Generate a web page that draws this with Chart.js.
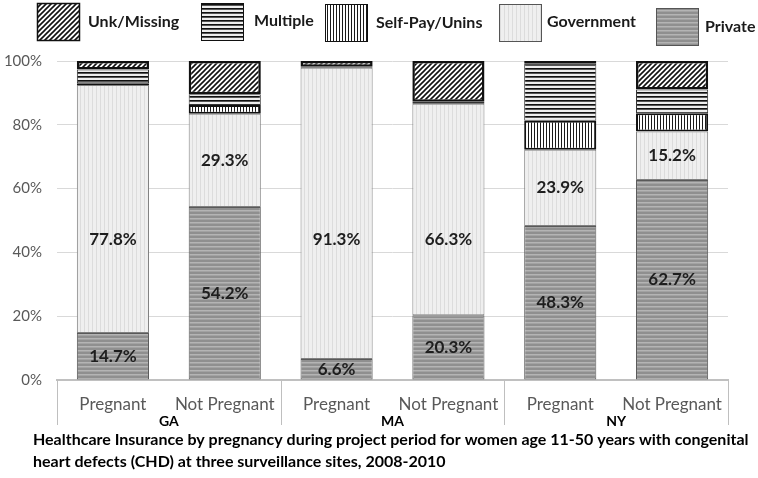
<!DOCTYPE html>
<html>
<head>
<meta charset="utf-8">
<script src="https://cdn.jsdelivr.net/npm/chart.js@4.4.1/dist/chart.umd.min.js"></script>
<style>
  html, body { margin: 0; padding: 0; background: #ffffff; }
  #wrap { width: 758px; height: 478px; }
</style>
</head>
<body>
<div id="wrap"><canvas id="c" width="758" height="478"></canvas></div>
<script>
// ---- data ----
const categories = ['Pregnant', 'Not Pregnant', 'Pregnant', 'Not Pregnant', 'Pregnant', 'Not Pregnant'];
const sites = ['GA', 'MA', 'NY'];
const privateVals = [14.7, 54.2, 6.6, 20.3, 48.3, 62.7];
const governmentVals = [77.8, 29.3, 91.3, 66.3, 23.9, 15.2];
const selfPayVals = [0.5, 2.7, 0.0, 0.2, 9.1, 5.7];
const multipleVals = [4.3, 3.4, 0.3, 0.4, 17.8, 7.5];
const unkVals = [2.7, 10.4, 1.8, 12.8, 0.9, 8.9];
const yTicks = [0, 20, 40, 60, 80, 100];
const seriesNames = ['Private', 'Government', 'Self-Pay/Unins', 'Multiple', 'Unk/Missing'];
const captionLines = [
  'Healthcare Insurance by pregnancy during project period for women age 11-50 years with congenital',
  'heart defects (CHD) at three surveillance sites, 2008-2010'
];

// ---- patterns ----
function makePattern(w, h, draw) {
  const c = document.createElement('canvas');
  c.width = w; c.height = h;
  const g = c.getContext('2d');
  draw(g, w, h);
  return g.createPattern(c, 'repeat');
}
const pPrivate = makePattern(1, 4, (g) => {
  g.fillStyle = '#a2a2a2'; g.fillRect(0, 0, 1, 4);
  g.fillStyle = '#8f8f8f'; g.fillRect(0, 0, 1, 2);
  g.fillStyle = '#b4b4b4'; g.fillRect(0, 2, 1, 1);
});
const pGov = makePattern(4, 1, (g) => {
  g.fillStyle = '#efefef'; g.fillRect(0, 0, 4, 1);
  g.fillStyle = '#dcdcdc'; g.fillRect(0, 0, 1, 1);
});
const pSelf = makePattern(3, 1, (g) => {
  g.fillStyle = '#ffffff'; g.fillRect(0, 0, 3, 1);
  g.fillStyle = '#1a1a1a'; g.fillRect(0, 0, 1, 1);
});
const pMulti = makePattern(1, 4, (g) => {
  g.fillStyle = '#eeeeee'; g.fillRect(0, 0, 1, 4);
  g.fillStyle = '#111111'; g.fillRect(0, 0, 1, 1);
  g.fillStyle = '#555555'; g.fillRect(0, 1, 1, 1);
});
const pUnk = makePattern(5, 5, (g) => {
  g.fillStyle = '#ffffff'; g.fillRect(0, 0, 5, 5);
  g.strokeStyle = '#111111'; g.lineWidth = 1.6;
  g.beginPath();
  g.moveTo(-1, 6); g.lineTo(6, -1);
  g.moveTo(-1, 1); g.lineTo(1, -1);
  g.moveTo(4, 6); g.lineTo(6, 4);
  g.stroke();
});

const fills = [pPrivate, pGov, pSelf, pMulti, pUnk];
const borders = ['#595959', '#808080', '#111111', '#333333', '#111111'];
const borderWidths = [1, 1, 2, 1, 2.5];
const seriesData = [privateVals, governmentVals, selfPayVals, multipleVals, unkVals];

const datasets = seriesNames.map((name, i) => ({
  label: name,
  data: seriesData[i],
  backgroundColor: fills[i],
  borderColor: borders[i],
  borderWidth: borderWidths[i],
  borderSkipped: false,
  barPercentage: 0.645,
  categoryPercentage: 1.0
}));

// ---- plugins ----
const labelPlugin = {
  id: 'valueLabels',
  afterDatasetsDraw(chart) {
    const ctx = chart.ctx;
    const ys = chart.scales.y;
    ctx.save();
    ctx.font = 'bold 17px Lato';
    ctx.fillStyle = '#1e1e1e';
    ctx.textAlign = 'center';
    ctx.textBaseline = 'middle';
    [0, 1].forEach((di) => {
      const meta = chart.getDatasetMeta(di);
      const vals = chart.data.datasets[di].data;
      meta.data.forEach((bar, j) => {
        const v = vals[j];
        let y = (bar.y + bar.base) / 2;
        if (di === 1 && v > 50) y = ys.getPixelForValue(44);
        ctx.fillText(v.toFixed(1) + '%', bar.x, y);
      });
    });
    ctx.restore();
  }
};

const groupPlugin = {
  id: 'groups',
  afterDraw(chart) {
    const ctx = chart.ctx;
    const xs = chart.scales.x;
    const bottom = chart.chartArea.bottom;
    const catW = xs.getPixelForValue(1) - xs.getPixelForValue(0);
    ctx.save();
    ctx.strokeStyle = '#bfbfbf';
    ctx.lineWidth = 1;
    sites.forEach((s, g) => {
      const left = xs.getPixelForValue(2 * g) - catW / 2;
      const right = xs.getPixelForValue(2 * g + 1) + catW / 2;
      ctx.beginPath();
      ctx.moveTo(Math.round(left) + 0.5, bottom);
      ctx.lineTo(Math.round(left) + 0.5, bottom + 45);
      if (g === sites.length - 1) {
        ctx.moveTo(Math.round(right) + 0.5, bottom);
        ctx.lineTo(Math.round(right) + 0.5, bottom + 45);
      }
      ctx.stroke();
      ctx.font = 'bold 14px Lato';
      ctx.fillStyle = '#000000';
      ctx.textAlign = 'center';
      ctx.textBaseline = 'middle';
      ctx.fillText(s, (left + right) / 2, bottom + 41);
    });
    // caption
    ctx.font = 'bold 16px Lato';
    ctx.fillStyle = '#000000';
    ctx.textAlign = 'left';
    ctx.textBaseline = 'middle';
    captionLines.forEach((line, i) => ctx.fillText(line, 33, 440 + i * 22));

    // legend
    const legendItems = [
      { si: 4, bx: 37, by: 3, tx: 88, ty: 22 },
      { si: 3, bx: 201, by: 3, tx: 254, ty: 21 },
      { si: 2, bx: 325, by: 4, tx: 376, ty: 23 },
      { si: 1, bx: 499, by: 4, tx: 547, ty: 22 },
      { si: 0, bx: 656, by: 8, tx: 705, ty: 27 }
    ];
    legendItems.forEach((it) => {
      ctx.fillStyle = fills[it.si];
      ctx.fillRect(it.bx, it.by, 43, 38);
      ctx.strokeStyle = it.si >= 2 ? '#111111' : '#555555';
      ctx.lineWidth = it.si === 4 ? 1.5 : 1;
      ctx.strokeRect(it.bx + 0.5, it.by + 0.5, 42, 37);
      ctx.font = 'bold 16px Lato';
      ctx.fillStyle = '#1a1a1a';
      ctx.textAlign = 'left';
      ctx.textBaseline = 'middle';
      ctx.fillText(seriesNames[it.si], it.tx, it.ty);
    });
    ctx.restore();
  }
};

new Chart(document.getElementById('c'), {
  type: 'bar',
  data: { labels: categories, datasets: datasets },
  options: {
    responsive: false,
    animation: false,
    devicePixelRatio: 1,
    layout: { padding: { top: 61, right: 30, left: 0, bottom: 0 } },
    plugins: { legend: { display: false }, tooltip: { enabled: false }, title: { display: false } },
    scales: {
      x: {
        stacked: true,
        grid: { display: false, drawTicks: false },
        border: { display: true, color: '#c0c0c0', width: 2 },
        ticks: { color: '#595959', font: { family: 'Lato', size: 17 }, padding: 14, maxRotation: 0 },
        afterFit(scale) { scale.height = 98; }
      },
      y: {
        stacked: true,
        min: 0,
        max: 100,
        grid: { color: (c) => (c.tick && c.tick.value === 0 ? 'rgba(0,0,0,0)' : '#d9d9d9'), drawTicks: false },
        border: { display: false },
        afterBuildTicks(scale) { scale.ticks = yTicks.map((v) => ({ value: v })); },
        ticks: {
          color: '#595959',
          font: { family: 'Lato', size: 15 },
          padding: 15,
          callback: (v) => v + '%'
        },
        afterFit(scale) { scale.width = 57; }
      }
    }
  },
  plugins: [labelPlugin, groupPlugin]
});
</script>
</body>
</html>
